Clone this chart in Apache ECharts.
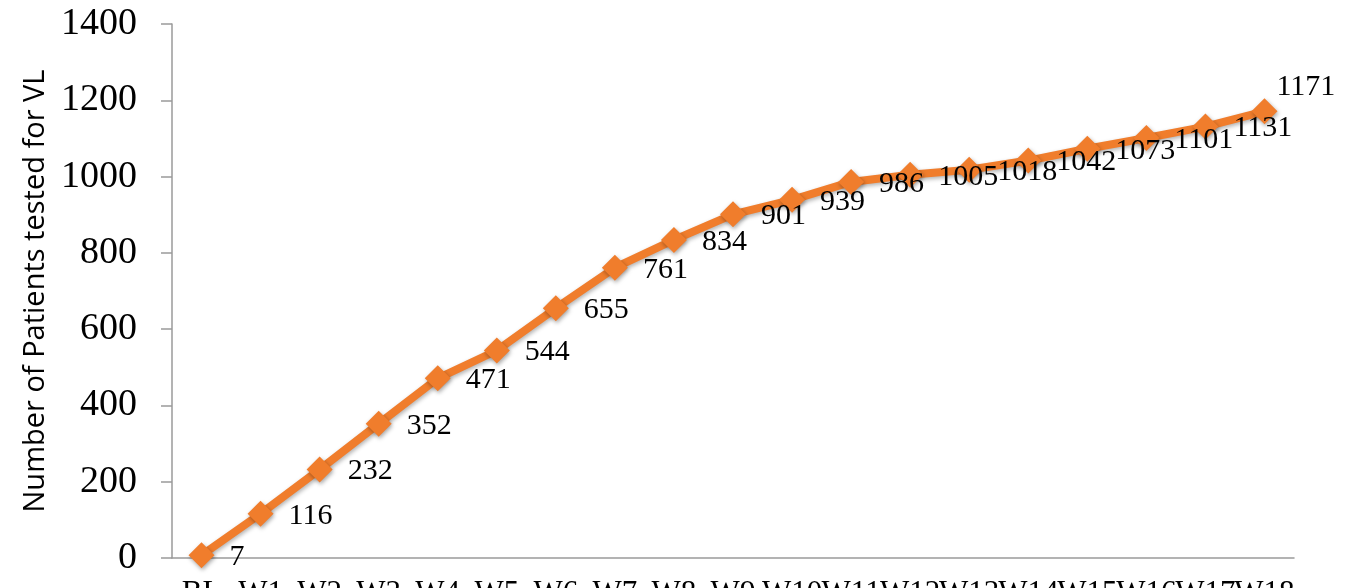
<!DOCTYPE html>
<html>
<head>
<meta charset="utf-8">
<script src="https://cdn.jsdelivr.net/npm/echarts@6/dist/echarts.min.js"></script>
<style>
  html, body { margin: 0; padding: 0; background: #fff; }
  #chart { width: 1361px; height: 588px; }
</style>
</head>
<body>
<div id="chart"></div>
<script>
// weeks on the x axis
const weeks = ['BL', 'W1', 'W2', 'W3', 'W4', 'W5', 'W6', 'W7', 'W8', 'W9',
  'W10', 'W11', 'W12', 'W13', 'W14', 'W15', 'W16', 'W17', 'W18']
// cumulative number of patients tested for VL
const tested = [7, 116, 232, 352, 471, 544, 655, 761, 834, 901,
  939, 986, 1005, 1018, 1042, 1073, 1101, 1131, 1171]
const yTicks = [0, 200, 400, 600, 800, 1000, 1200, 1400]

const chart = echarts.init(document.getElementById('chart'))

const serifFont = 'Liberation Serif'
const orange = '#F07D2C'

// last point gets its label above, like in the original
const seriesData = tested.map((v, i) => {
  if (i === tested.length - 1) {
    return { value: v, label: { offset: [-16, -24] } }
  }
  return v
})

const option = {
  animation: false,
  grid: {
    left: 172,
    top: 24,
    right: 67,
    bottom: 30,
    containLabel: false,
    outerBoundsMode: 'none',
  },
  xAxis: {
    type: 'category',
    data: weeks,
    boundaryGap: true,
    axisLine: { lineStyle: { color: '#9a9a9a', width: 1.5 } },
    axisTick: { length: 8, lineStyle: { color: '#9a9a9a', width: 1.5 } },
    axisLabel: {
      interval: 0,
      margin: 20,
      fontFamily: serifFont,
      fontSize: 31,
      color: '#000',
    },
  },
  yAxis: {
    type: 'value',
    min: yTicks[0],
    max: yTicks[yTicks.length - 1],
    interval: 200,
    name: 'Number of Patients tested for VL',
    nameLocation: 'middle',
    nameGap: 122,
    nameTextStyle: {
      fontFamily: 'Open Sans',
      fontSize: 29,
      color: '#000',
    },
    splitLine: { show: false },
    axisLine: { show: true, lineStyle: { color: '#9a9a9a', width: 1.5 } },
    axisTick: { show: true, length: 11, lineStyle: { color: '#9a9a9a', width: 1.5 } },
    axisLabel: {
      margin: 35,
      fontFamily: serifFont,
      fontSize: 38,
      color: '#000',
      formatter: v => String(v),
    },
  },
  series: [
    {
      type: 'line',
      data: seriesData,
      symbol: 'diamond',
      symbolSize: 26,
      itemStyle: {
        color: orange,
        shadowColor: 'rgba(0,0,0,0.35)',
        shadowBlur: 4,
        shadowOffsetX: 1,
        shadowOffsetY: 2,
      },
      lineStyle: {
        color: orange,
        width: 8,
        shadowColor: 'rgba(0,0,0,0.3)',
        shadowBlur: 4,
        shadowOffsetX: 1,
        shadowOffsetY: 2,
      },
      label: {
        show: true,
        position: 'right',
        distance: 15,
        offset: [0, 2],
        fontFamily: serifFont,
        fontSize: 30,
        color: '#000',
      },
    },
  ],
}

chart.setOption(option)
</script>
</body>
</html>
